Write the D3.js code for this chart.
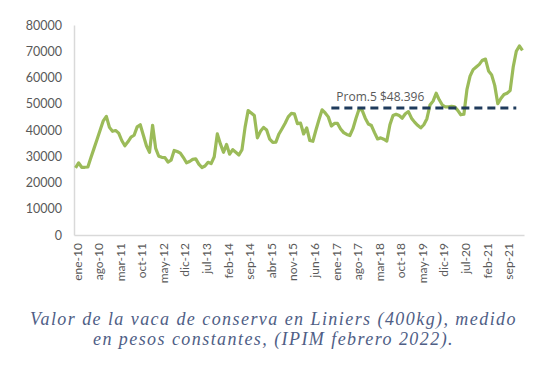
<!DOCTYPE html>
<html>
<head>
<meta charset="utf-8">
<script src="https://cdn.jsdelivr.net/npm/d3@7"></script>
<style>
  body { margin: 0; background: #fff; }
  svg { display: block; }
</style>
</head>
<body>
<svg id="chart"></svg>
<script>
// month names used to build the categories (ene-10 .. feb-22)
const monthNames = ['ene', 'feb', 'mar', 'abr', 'may', 'jun', 'jul', 'ago', 'sep', 'oct', 'nov', 'dic'];
const years = ['10', '11', '12', '13', '14', '15', '16', '17', '18', '19', '20', '21', '22'];

// value of the cow, constant pesos, one per month
const values = [
  25600, 27500, 25800, 25800, 25900, 29500, 33000, 36500, 40000, 43500,
  45200, 41000, 39500, 39800, 38800, 36000, 34000, 35500, 37300, 38000,
  41200, 42000, 38000, 34000, 31500, 41800, 33000, 30000, 29600, 29500,
  27800, 28500, 32200, 31800, 31200, 29500, 27500, 28000, 28800, 29000,
  27000, 25700, 26300, 27700, 27200, 29800, 38500, 34700, 31500, 34500,
  30800, 32500, 31500, 30500, 32500, 41000, 47400, 46500, 45500, 37000,
  39500, 41000, 40000, 36500, 35300, 35400, 38500, 40500, 42600, 45000,
  46300, 46200, 42400, 42600, 38500, 40800, 36000, 35700, 40000, 44000,
  47700, 46500, 45000, 41500, 42500, 42500, 40400, 39000, 38300, 37900,
  40500, 44500, 48000, 47500, 44500, 42300, 41700, 39000, 36600, 37000,
  36500, 35800, 42000, 45500, 46000, 45500, 44500, 46200, 47000, 44500,
  43000, 41800, 40800, 42000, 44300, 49500, 51000, 54000, 51500, 49500,
  48800, 48800, 49000, 48800, 47500, 45800, 46000, 55500, 60500, 63000,
  64000, 65000, 66600, 67000, 62500, 61000, 57000, 50000, 52000, 53500,
  54000, 55000, 64000, 70000, 72000, 70300
];

const tickLabels = ['ene-10', 'ago-10', 'mar-11', 'oct-11', 'may-12', 'dic-12', 'jul-13',
  'feb-14', 'sep-14', 'abr-15', 'nov-15', 'jun-16', 'ene-17', 'ago-17', 'mar-18',
  'oct-18', 'may-19', 'dic-19', 'jul-20', 'feb-21', 'sep-21'];
const yTicks = [0, 10000, 20000, 30000, 40000, 50000, 60000, 70000, 80000];

// five-year average
const avgValue = 48396;
const avgLabel = 'Prom.5 $48.396';
const avgRange = ['dic-16', 'dic-21'];

const captionLines = [
  'Valor de la vaca de conserva en Liniers (400kg), medido',
  'en pesos constantes, (IPIM febrero 2022).'
];

const months = [];
years.forEach(y => monthNames.forEach(m => months.push(m + '-' + y)));
const data = values.map((v, i) => ({ month: months[i], value: v }));

const W = 545, H = 374;
const svg = d3.select('#chart').attr('width', W).attr('height', H);

const plot = { left: 74, right: 524, top: 25, bottom: 235 };

const x = d3.scaleBand()
  .domain(data.map(d => d.month))
  .range([plot.left, plot.right]);
const xc = m => x(m) + x.bandwidth() / 2;

const y = d3.scaleLinear()
  .domain([0, 80000])
  .range([plot.bottom, plot.top]);

const labelFont = 'Lato, "Open Sans", sans-serif';

// Y axis
const yAxis = svg.append('g')
  .attr('transform', `translate(${plot.left},0)`)
  .call(d3.axisLeft(y).tickValues(yTicks).tickSize(0).tickPadding(12).tickFormat(d3.format('d')));
yAxis.select('.domain').attr('stroke', '#d9d9d9').attr('stroke-width', 1.5);
yAxis.selectAll('text')
  .style('font-family', labelFont)
  .style('font-size', '12.5px')
  .style('fill', '#595959');

// X axis
const xAxis = svg.append('g')
  .attr('transform', `translate(0,${plot.bottom})`)
  .call(d3.axisBottom(x).tickValues(tickLabels).tickSize(0));
xAxis.select('.domain').attr('stroke', '#d9d9d9').attr('stroke-width', 1.5);
xAxis.selectAll('text')
  .style('font-family', labelFont)
  .style('font-size', '12px')
  .style('fill', '#595959')
  .attr('text-anchor', 'end')
  .attr('transform', 'rotate(-90)')
  .attr('x', -8)
  .attr('y', 0)
  .attr('dy', '0.38em')
  .attr('dx', 0);
xAxis.selectAll('.tick').attr('transform', d => `translate(${xc(d) + 1.5},0)`);

// line
const line = d3.line()
  .x(d => xc(d.month))
  .y(d => y(d.value));

svg.append('path')
  .datum(data)
  .attr('fill', 'none')
  .attr('stroke', '#9bbb59')
  .attr('stroke-width', 3.2)
  .attr('stroke-linejoin', 'round')
  .attr('d', line);

// average dashed line
svg.append('line')
  .attr('x1', xc(avgRange[0]))
  .attr('x2', xc(avgRange[1]))
  .attr('y1', y(avgValue))
  .attr('y2', y(avgValue))
  .attr('stroke', '#1f3b5c')
  .attr('stroke-width', 3)
  .attr('stroke-dasharray', '8,5');

svg.append('text')
  .attr('x', xc(avgRange[0]) + 5)
  .attr('y', y(avgValue) - 7)
  .style('font-family', '"Open Sans", sans-serif')
  .style('font-size', '12px')
  .style('fill', '#595959')
  .text(avgLabel);

// caption, widened with letter spacing to the reference width
const capSize = 18;
const cap = svg.append('g');
captionLines.forEach((t, i) => {
  cap.append('text')
    .attr('x', W / 2 + 1)
    .attr('y', 325 + i * 19.5)
    .attr('text-anchor', 'middle')
    .style('font-family', '"Liberation Serif", serif')
    .style('font-style', 'italic')
    .style('font-size', capSize + 'px')
    .style('fill', '#4f5e86')
    .text(t);
});
const first = cap.select('text').node();
const spacing = (487 - first.getComputedTextLength()) / captionLines[0].length;
cap.selectAll('text').style('letter-spacing', spacing + 'px');
</script>
</body>
</html>
